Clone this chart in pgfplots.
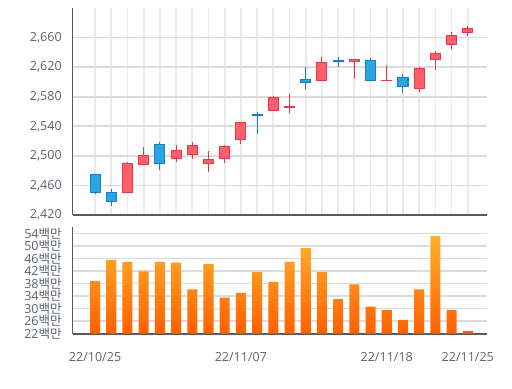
\documentclass[border=0pt]{standalone}
\usepackage{pgfplots}
\pgfplotsset{compat=1.18}
\usepackage{pgfplotstable}
\usepackage{fontspec}
\setmainfont[Numbers=Lining]{Open Sans}
\newfontfamily\kr{Noto Sans CJK KR}
\definecolor{upfill}{HTML}{FF5E6C}
\definecolor{updraw}{HTML}{E8384A}
\definecolor{dnfill}{HTML}{2AA5E0}
\definecolor{dndraw}{HTML}{1B7BCF}
\definecolor{lbl}{HTML}{5B6270}
\definecolor{hgrid}{HTML}{DCDCDC}
\definecolor{vgrid}{HTML}{EAEAEA}
\definecolor{axisc}{HTML}{5A5A5A}
\definecolor{bartop}{HTML}{FDB32F}
\definecolor{barbot}{HTML}{FF6000}

% rising candles: x, low, body low (open), body high (close), high
\pgfplotstableread{
x lo bl bh hi
2 2450 2450.3 2489.3 2491.6
3 2488 2488.3 2500.6 2512
5 2491.6 2497 2507 2515
6 2495.7 2501.5 2514.2 2518.2
7 2477.5 2490.2 2495.7 2506
8 2490.2 2496.5 2512.4 2514.2
9 2516.5 2521.5 2545 2546
11 2561 2561.3 2578.6 2580.7
12 2558.2 2565.5 2566.5 2584
14 2602 2602.5 2626.5 2634.3
16 2604.4 2627.5 2630.2 2631.5
18 2601 2601.5 2602.5 2622.4
20 2586.2 2590.8 2618.4 2620.7
21 2616 2630.6 2638.3 2641.9
22 2644.2 2650.6 2663.2 2666.9
23 2662.3 2666.9 2672.7 2675
}\uptable

% falling candles: x, low, body low (close), body high (open), high
\pgfplotstableread{
x lo bl bh hi
0 2448 2450.3 2474.3 2475.5
1 2432.6 2438.6 2450.8 2455.3
4 2480.2 2490.2 2515.1 2518.2
10 2530 2555 2556 2559
13 2589.8 2599.3 2603.4 2620.7
15 2619.7 2627.3 2628.3 2634.3
17 2602 2602.5 2629.6 2632
19 2584.4 2594.3 2606.5 2611.2
}\dntable

\pgfplotstableread{
x vol
0 38.8
1 45.5
2 44.9
3 41.9
4 44.9
5 44.7
6 36.1
7 44.3
8 33.5
9 35.0
10 41.6
11 38.5
12 44.9
13 49.3
14 41.6
15 33.0
16 37.7
17 30.6
18 29.5
19 26.4
20 36.1
21 53.2
22 29.5
23 22.9
}\voltable

\pgfplotsset{
  base/.style={
    scale only axis, width=310.9pt,
    xmin=-1.39, xmax=24.19,
    axis x line*=bottom, axis y line*=left,
    axis line style={-, axisc, line width=1.4pt},
    major tick length=0pt,
    tick label style={lbl, font=\fontsize{9.4}{10}\selectfont},
    yticklabel style={xshift=-4.6pt},
  },
  price/.style={
    at={(54.4pt,-161.25pt)}, anchor=south west, height=155.25pt,
    ymin=2420, ymax=2700,
  },
  overlay/.style={base, price, hide axis, ybar stacked, bar width=0.62},
}

\begin{document}
\begin{tikzpicture}
\path (0pt,0pt) rectangle (384pt,-291.75pt);
\begin{axis}[base, price,
  ytick={2420,2460,2500,2540,2580,2620,2660},
  yticklabel={\pgfmathprintnumber[fixed, precision=0, 1000 sep={,}, assume math mode=true]{\tick}},
  xtick={0,...,23}, xticklabels={},
  xmajorgrids, ymajorgrids,
  x grid style={vgrid, line width=1.3pt},
  y grid style={hgrid, line width=1.2pt},
]
\addplot[draw=none, no markers, error bars/.cd, y dir=plus, y explicit,
  error mark=none, error bar style={draw=updraw, line width=0.8pt}]
  table[x=x, y=lo, y error expr=\thisrow{hi}-\thisrow{lo}] {\uptable};
\addplot[draw=none, no markers, error bars/.cd, y dir=plus, y explicit,
  error mark=none, error bar style={draw=dndraw, line width=0.8pt}]
  table[x=x, y=lo, y error expr=\thisrow{hi}-\thisrow{lo}] {\dntable};
\end{axis}

\begin{axis}[overlay]
\addplot[draw=none, fill=none] table[x=x, y=bl] {\uptable};
\addplot[draw=updraw, fill=upfill, line width=0.8pt]
  table[x=x, y expr=\thisrow{bh}-\thisrow{bl}] {\uptable};
\end{axis}

\begin{axis}[overlay]
\addplot[draw=none, fill=none] table[x=x, y=bl] {\dntable};
\addplot[draw=dndraw, fill=dnfill, line width=0.8pt]
  table[x=x, y expr=\thisrow{bh}-\thisrow{bl}] {\dntable};
\end{axis}

\begin{axis}[base,
  at={(54.4pt,-250.3pt)}, anchor=south west, height=80.25pt,
  ymin=22, ymax=56.1,
  ytick={22,26,30,34,38,42,46,50,54},
  yticklabels={22{\kr 백만},26{\kr 백만},30{\kr 백만},34{\kr 백만},38{\kr 백만},42{\kr 백만},46{\kr 백만},50{\kr 백만},54{\kr 백만}},
  xtick={0,9,18,23},
  xticklabels={22/10/25,22/11/07,22/11/18,22/11/25},
  xticklabel style={yshift=-10.5pt},
  ymajorgrids,
  y grid style={hgrid, line width=1.2pt},
]
\addplot[ybar, bar width=0.62, draw=none, top color=bartop, bottom color=barbot]
  table[x=x, y=vol] {\voltable};
\end{axis}
\end{tikzpicture}
\end{document}
